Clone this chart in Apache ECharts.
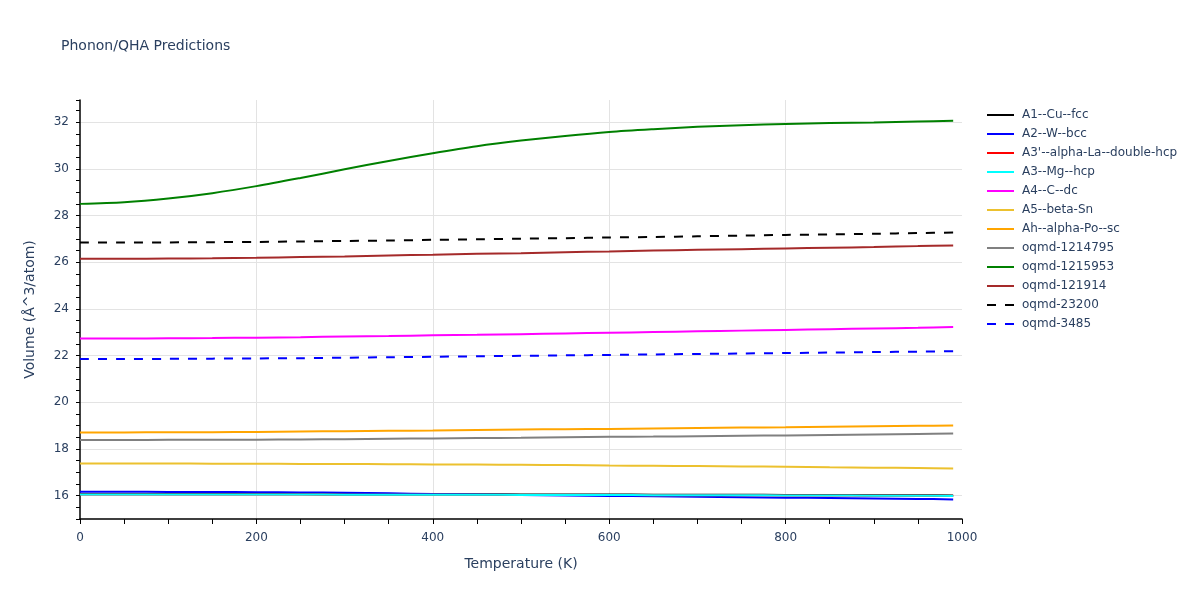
<!DOCTYPE html>
<html>
<head>
<meta charset="utf-8">
<script src="https://cdn.jsdelivr.net/npm/echarts@6/dist/echarts.min.js"></script>
<style>html,body{margin:0;padding:0;background:#fff}#c{width:1200px;height:600px}</style>
</head>
<body>
<div id="c"></div>
<script>
// Temperatures (K)
var temps = [0,50,100,150,200,250,300,350,400,450,500,550,600,650,700,750,800,850,900,950,990];

// Volumes (Å^3/atom)
var a1CuFcc      = [16.07,16.07,16.07,16.07,16.07,16.07,16.06,16.06,16.06,16.06,16.05,16.05,16.05,16.04,16.04,16.04,16.03,16.03,16.02,16.02,16.01];
var a2WBcc       = [16.17,16.17,16.16,16.16,16.15,16.14,16.12,16.10,16.07,16.05,16.03,16.01,15.99,15.97,15.95,15.93,15.91,15.90,15.88,15.86,15.84];
var a3pLaDhcp    = [16.05,16.05,16.05,16.05,16.05,16.05,16.04,16.04,16.04,16.04,16.03,16.03,16.03,16.02,16.02,16.02,16.01,16.01,16.00,16.00,15.99];
var a3MgHcp      = [16.05,16.05,16.05,16.05,16.05,16.05,16.04,16.04,16.04,16.04,16.03,16.03,16.03,16.02,16.02,16.02,16.01,16.01,16.00,16.00,15.99];
var a4CDc        = [22.73,22.73,22.74,22.75,22.77,22.79,22.82,22.84,22.87,22.89,22.92,22.95,22.98,23.01,23.04,23.07,23.10,23.13,23.16,23.19,23.22];
var a5BetaSn     = [17.38,17.38,17.38,17.37,17.37,17.36,17.36,17.35,17.34,17.33,17.32,17.31,17.29,17.28,17.27,17.25,17.24,17.22,17.20,17.18,17.16];
var ahAlphaPoSc  = [18.71,18.71,18.72,18.72,18.73,18.75,18.76,18.78,18.79,18.81,18.83,18.85,18.86,18.88,18.90,18.92,18.93,18.95,18.97,18.99,19.01];
var oqmd1214795  = [18.38,18.38,18.39,18.39,18.40,18.41,18.42,18.44,18.45,18.47,18.48,18.50,18.52,18.53,18.55,18.57,18.58,18.60,18.62,18.64,18.66];
var oqmd1215953  = [28.50,28.57,28.73,28.96,29.26,29.61,29.98,30.34,30.67,30.97,31.21,31.41,31.58,31.70,31.80,31.87,31.92,31.96,31.99,32.03,32.06];
var oqmd121914   = [26.15,26.15,26.16,26.17,26.19,26.22,26.25,26.29,26.32,26.36,26.39,26.43,26.46,26.50,26.53,26.56,26.59,26.62,26.65,26.69,26.72];
var oqmd23200    = [26.84,26.84,26.85,26.86,26.87,26.89,26.91,26.93,26.96,26.98,27.01,27.03,27.06,27.08,27.11,27.14,27.17,27.19,27.22,27.25,27.27];
var oqmd3485     = [21.85,21.85,21.86,21.87,21.88,21.89,21.91,21.93,21.95,21.97,21.99,22.01,22.03,22.05,22.07,22.09,22.11,22.13,22.15,22.17,22.19];

var seriesNames  = ["A1--Cu--fcc","A2--W--bcc","A3'--alpha-La--double-hcp","A3--Mg--hcp","A4--C--dc","A5--beta-Sn","Ah--alpha-Po--sc","oqmd-1214795","oqmd-1215953","oqmd-121914","oqmd-23200","oqmd-3485"];
var seriesValues = [a1CuFcc,a2WBcc,a3pLaDhcp,a3MgHcp,a4CDc,a5BetaSn,ahAlphaPoSc,oqmd1214795,oqmd1215953,oqmd121914,oqmd23200,oqmd3485];
var seriesColors = ["#000000","#0000ff","#ff0000","#00ffff","#ff00ff","#ecc12f","#ffa500","#808080","#008000","#a52a2a","#000000","#0000ff"];
var seriesDashed = [false,false,false,false,false,false,false,false,false,false,true,true];

var xTicks = [0,200,400,600,800,1000];
var yTickLabels = [16,18,20,22,24,26,28,30,32];

var FONT = "DejaVu Sans";
var TXT = "#2a3f5f";
var GRID = "#e3e3e3";

var series = seriesNames.map(function (n, i) {
  return {
    name: n,
    type: "line",
    symbol: "none",
    smooth: 0.3,
    data: temps.map(function (t, j) { return [t, seriesValues[i][j]]; }),
    lineStyle: { color: seriesColors[i], width: 2, type: seriesDashed[i] ? [9, 9] : "solid" },
    itemStyle: { color: seriesColors[i] },
    emphasis: { disabled: true },
    z: 2
  };
});

var chart = echarts.init(document.getElementById("c"), null, { renderer: "canvas" });
chart.setOption({
  animation: false,
  backgroundColor: "#ffffff",
  textStyle: { fontFamily: FONT },
  title: {
    text: "Phonon/QHA Predictions",
    left: 61, top: 39, padding: 0,
    textStyle: { fontFamily: FONT, fontSize: 14, fontWeight: "normal", color: TXT }
  },
  legend: {
    orient: "vertical",
    left: 986, top: 108,
    padding: 0,
    itemWidth: 27, itemHeight: 14, itemGap: 5,
    data: seriesNames,
    itemStyle: { opacity: 0 },
    textStyle: { fontFamily: FONT, fontSize: 12, color: TXT, padding: [0, 0, 0, 3], lineHeight: 14 }
  },
  grid: { left: 80, right: 238, top: 100, bottom: 81, containLabel: false },
  xAxis: {
    type: "value",
    min: 0, max: 1000, interval: 200,
    name: "Temperature (K)",
    nameLocation: "middle", nameGap: 38,
    nameTextStyle: { fontFamily: FONT, fontSize: 14, color: TXT },
    axisLine: { show: true, onZero: false, lineStyle: { color: "#000", width: 1.5 } },
    axisTick: { show: true, length: 5, lineStyle: { color: "#000" } },
    minorTick: { show: true, splitNumber: 4, length: 5, lineStyle: { color: "#000" } },
    axisLabel: { fontFamily: FONT, fontSize: 12, color: TXT, margin: 13,
      formatter: function (v) { return xTicks.indexOf(v) >= 0 ? String(v) : ""; } },
    splitLine: { show: true, lineStyle: { color: ["transparent", GRID, GRID, GRID, GRID, "transparent"], width: 1 } }
  },
  yAxis: {
    type: "value",
    min: 15, max: 32.95, interval: 1,
    name: "Volume (Å^3/atom)",
    nameLocation: "middle", nameGap: 43,
    nameTextStyle: { fontFamily: FONT, fontSize: 14, color: TXT },
    axisLine: { show: true, onZero: false, lineStyle: { color: "#000", width: 1.5 } },
    axisTick: { show: true, length: 4, lineStyle: { color: "#000" } },
    minorTick: { show: true, splitNumber: 2, length: 4, lineStyle: { color: "#000" } },
    axisLabel: { fontFamily: FONT, fontSize: 12, color: TXT, margin: 11, showMaxLabel: false,
      formatter: function (v) { return yTickLabels.indexOf(v) >= 0 ? String(v) : ""; } },
    splitLine: { show: true, lineStyle: { color: ["transparent", GRID], width: 1 } }
  },
  series: series
});
</script>
</body>
</html>
